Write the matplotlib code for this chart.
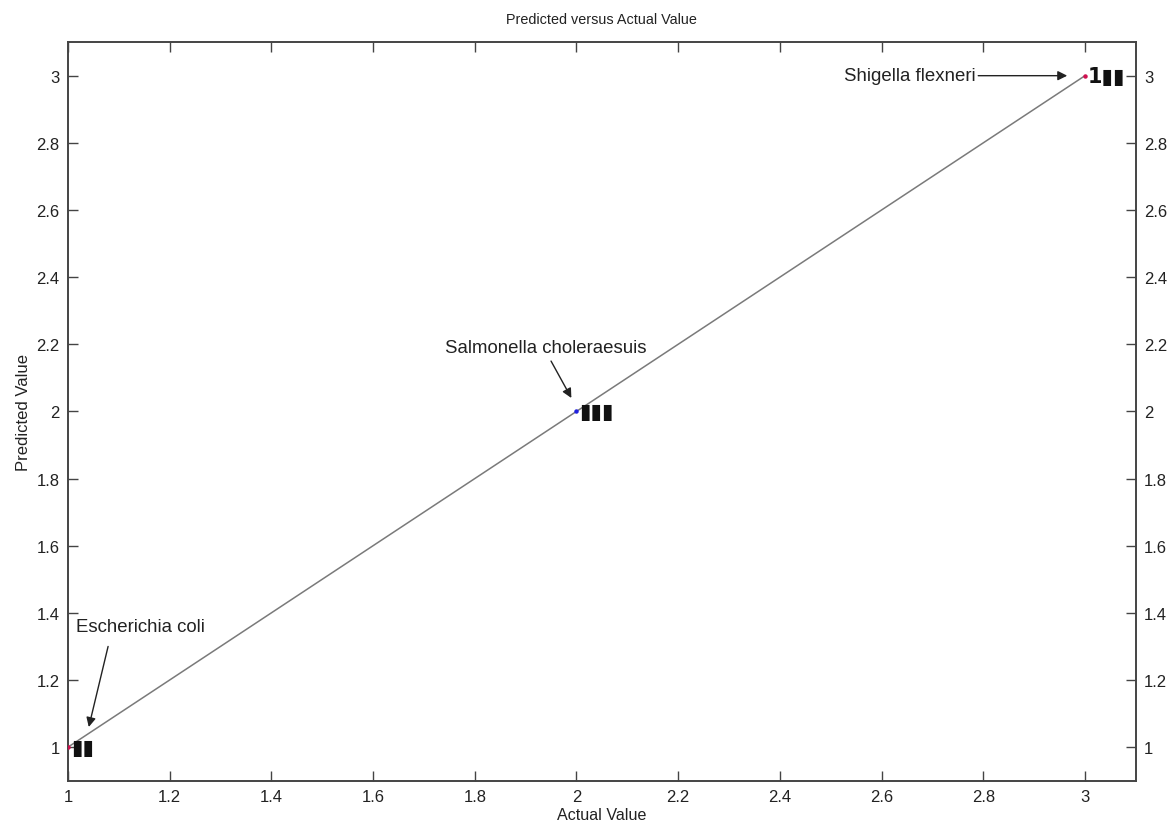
import matplotlib.pyplot as plt
import numpy as np
from matplotlib.ticker import FormatStrFormatter, MultipleLocator

plt.rcParams['font.family'] = ['Liberation Sans', 'DejaVu Sans']

# actual vs predicted class for the three organisms
actual = [1, 2, 3]
predicted = [1, 2, 3]
point_colors = ['#d01050', '#2020e0', '#d01050']
point_tags = ['\u25ae\u25ae', '\u25ae\u25ae\u25ae', '1\u25ae\u25ae']

names = ['Escherichia coli', 'Salmonella choleraesuis', 'Shigella flexneri']
name_xy = [(1.016, 1.36), (1.742, 2.19), (2.785, 3.0)]
name_ha = ['left', 'left', 'right']
arrow_start = [(1.079, 1.30), (1.95, 2.15), (2.79, 3.0)]
arrow_tip = [(1.041, 1.06), (1.99, 2.04), (2.965, 3.0)]

fig = plt.figure(figsize=(11.71, 8.29), dpi=100)
ax = fig.add_axes([0.058, 0.057, 0.912, 0.891])

ax.plot(actual, predicted, color='#7a7a7a', lw=1.1, zorder=2)
for x, y, c, tag in zip(actual, predicted, point_colors, point_tags):
    ax.plot(x, y, 'o', ms=2.2, color=c, zorder=3)
    ax.annotate(tag, (x, y), xytext=(2, 0), textcoords='offset points',
                ha='left', va='center', fontsize=15, color='#111111',
                family='DejaVu Sans', fontweight='bold')

for name, txy, ha, s, t in zip(names, name_xy, name_ha, arrow_start, arrow_tip):
    ax.text(txy[0], txy[1], name, ha=ha, va='center', fontsize=13.4, color='#222222')
    ax.annotate('', xy=t, xytext=s,
                arrowprops=dict(arrowstyle='-|>', color='#222222', lw=1.0,
                                mutation_scale=14, shrinkA=0, shrinkB=0))

ax.set_xlim(1, 3.1)
ax.set_ylim(0.9, 3.1)
ax.xaxis.set_major_locator(MultipleLocator(0.2))
ax.yaxis.set_major_locator(MultipleLocator(0.2))
ax.xaxis.set_major_formatter(FormatStrFormatter('%g'))
ax.yaxis.set_major_formatter(FormatStrFormatter('%g'))
ax.tick_params(direction='in', length=7, width=1.0, color='#444444',
               labelsize=12, labelcolor='#222222', top=True, right=True,
               labelright=True, pad=6)
for sp in ax.spines.values():
    sp.set_color('#444444')
    sp.set_linewidth(1.4)

ax.set_title('Predicted versus Actual Value', fontsize=10.4, color='#222222', pad=14)
ax.set_xlabel('Actual Value', fontsize=11.6, color='#222222', labelpad=2)
ax.set_ylabel('Predicted Value', fontsize=12, color='#222222', labelpad=4)

fig.savefig('out.png', dpi=100)
